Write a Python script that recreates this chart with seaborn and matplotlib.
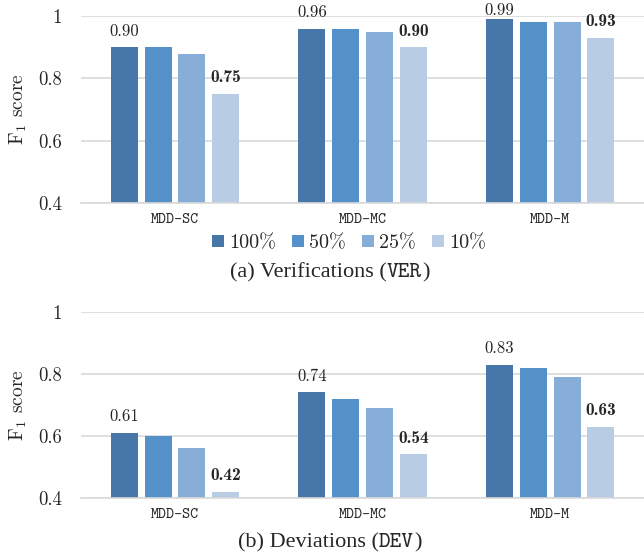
import numpy as np
import pandas as pd
import matplotlib
matplotlib.use('Agg')
import matplotlib.pyplot as plt
import seaborn as sns

# values
datasets = ['MDD-SC', 'MDD-MC', 'MDD-M']
fractions = ['100%', '50%', '25%', '10%']
ver_scores = [
    [0.90, 0.90, 0.88, 0.75],
    [0.96, 0.96, 0.95, 0.90],
    [0.99, 0.98, 0.98, 0.93],
]
dev_scores = [
    [0.61, 0.60, 0.56, 0.42],
    [0.74, 0.72, 0.69, 0.54],
    [0.83, 0.82, 0.79, 0.63],
]
ytick_values = [0.4, 0.6, 0.8, 1.0]
ytick_labels = ['0.4', '0.6', '0.8', '1']
palette = ['#4677a8', '#5491c8', '#86aed8', '#b8cce4']

sns.set_style('white')
plt.rcParams['font.family'] = ['cmr10', 'DejaVu Serif']
plt.rcParams['mathtext.fontset'] = 'cm'
plt.rcParams['axes.formatter.use_mathtext'] = True


def to_frame(scores):
    rows = []
    for d, vals in zip(datasets, scores):
        for f, v in zip(fractions, vals):
            rows.append({'dataset': d, 'fraction': f, 'f1': v})
    return pd.DataFrame(rows)


def draw_panel(ax, scores):
    df = to_frame(scores)
    sns.barplot(data=df, x='dataset', y='f1', hue='fraction',
                hue_order=fractions, palette=palette, saturation=1,
                width=0.72, gap=0.2, linewidth=0, errorbar=None, ax=ax)
    ax.set_ylim(0.4, 1.0)
    ax.set_xlim(-0.5, 2.5)
    ax.set_yticks(ytick_values)
    ax.set_yticklabels(ytick_labels, fontsize=13.5)
    ax.set_xlabel('')
    ax.set_ylabel(r'$\mathrm{F}_1$ score', fontsize=14, labelpad=6)
    for lab in ax.get_xticklabels():
        lab.set_fontfamily('cmtt10')
        lab.set_fontsize(11)
    ax.tick_params(axis='y', length=0, pad=14)
    ax.tick_params(axis='x', length=0, pad=7)
    for s in ['left', 'right', 'top']:
        ax.spines[s].set_visible(False)
    ax.spines['bottom'].set_color('#d9d9d9')
    ax.spines['bottom'].set_linewidth(1.2)
    ax.yaxis.grid(True, color='#d9d9d9', linewidth=1.2)
    ax.set_axisbelow(True)
    # labels on the 100% bar (plain) and 10% bar (bold)
    for ci, fam, fs in [(0, 'cmr10', 12), (3, 'cmb10', 12.5)]:
        for bar in ax.containers[ci]:
            v = bar.get_height()
            y = min(v + 0.052, 1.02)
            ax.text(bar.get_x() + bar.get_width() / 2, y, f'{v:.2f}',
                    ha='center', va='center', fontsize=fs,
                    family=fam, clip_on=False)
    handles, labels = ax.get_legend_handles_labels()
    ax.get_legend().remove()
    return handles, labels


def caption(fig, y, parts, xc=0.512):
    renderer = fig.canvas.get_renderer()
    texts = []
    x = 0.0
    for s, fam in parts:
        t = fig.text(x, y, s, family=fam, fontsize=16, ha='left',
                     va='baseline')
        w = t.get_window_extent(renderer).width / fig.bbox.width
        texts.append((t, x))
        x += w
    x0 = xc - x / 2
    for t, dx in texts:
        t.set_x(x0 + dx)


fig = plt.figure(figsize=(6.44, 5.55), dpi=100)
ax1 = fig.add_axes([0.126, 0.634, 0.874, 0.337])
ax2 = fig.add_axes([0.126, 0.103, 0.874, 0.335])

handles, labels = draw_panel(ax1, ver_scores)
draw_panel(ax2, dev_scores)

fig.legend(handles, labels, loc='center', bbox_to_anchor=(0.542, 0.562),
           ncol=4, frameon=False, fontsize=14.5, handlelength=0.6,
           handleheight=0.6, handletextpad=0.25, columnspacing=0.8)

fig.canvas.draw()
caption(fig, 1 - 277 / 555, [('(a) Verifications (', 'Liberation Serif'),
                             ('VER', 'cmtt10'),
                             (')', 'Liberation Serif')])
caption(fig, 1 - 547 / 555, [('(b) Deviations (', 'Liberation Serif'),
                             ('DEV', 'cmtt10'),
                             (')', 'Liberation Serif')])

fig.savefig('out.png', dpi=100)
